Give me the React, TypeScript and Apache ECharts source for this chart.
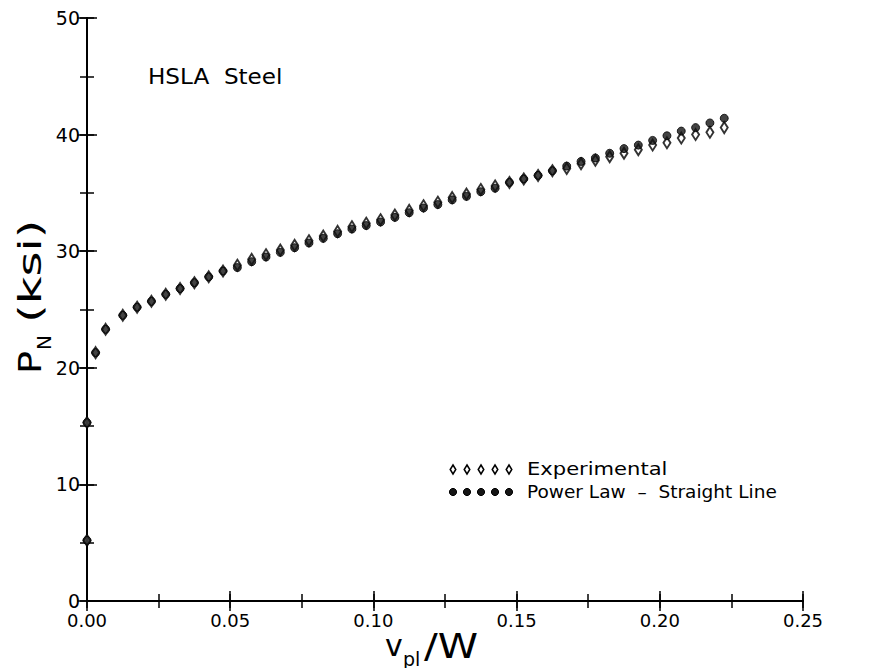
import React, { useEffect, useRef } from "react";
import * as echarts from "echarts";

// v_pl / W values (shared by both series)
const xValues = [
  0, 0, 0.003, 0.0065,
  0.0125, 0.0175, 0.0225, 0.0275, 0.0325, 0.0375, 0.0425, 0.0475,
  0.0525, 0.0575, 0.0625, 0.0675, 0.0725, 0.0775, 0.0825, 0.0875,
  0.0925, 0.0975, 0.1025, 0.1075, 0.1125, 0.1175, 0.1225, 0.1275,
  0.1325, 0.1375, 0.1425, 0.1475, 0.1525, 0.1575, 0.1625, 0.1675,
  0.1725, 0.1775, 0.1825, 0.1875, 0.1925, 0.1975, 0.2025, 0.2075,
  0.2125, 0.2175, 0.2225,
];

// P_N (ksi), experimental
const expValues = [
  5.2, 15.3, 21.3, 23.3,
  24.5, 25.2, 25.7, 26.3, 26.8, 27.3, 27.8, 28.3,
  28.8, 29.3, 29.7, 30.1, 30.5, 30.9, 31.3, 31.7,
  32.1, 32.4, 32.7, 33.1, 33.5, 33.9, 34.2, 34.6,
  34.9, 35.3, 35.6, 35.9, 36.2, 36.5, 36.9, 37.1,
  37.5, 37.8, 38.1, 38.4, 38.7, 39.1, 39.3, 39.7,
  40.0, 40.2, 40.6,
];

// P_N (ksi), power law - straight line
const powerValues = [
  5.2, 15.3, 21.3, 23.3,
  24.5, 25.2, 25.7, 26.3, 26.8, 27.3, 27.8, 28.3,
  28.6, 29.1, 29.5, 29.9, 30.3, 30.7, 31.1, 31.5,
  31.9, 32.2, 32.5, 32.9, 33.3, 33.7, 34.0, 34.4,
  34.7, 35.1, 35.4, 35.9, 36.2, 36.5, 36.9, 37.3,
  37.7, 38.0, 38.4, 38.8, 39.1, 39.5, 39.9, 40.3,
  40.6, 41.0, 41.4,
];

const seriesNames = ["Experimental", "Power Law  \u2013  Straight Line"];
const annotation = "HSLA  Steel";

const FONT = "DejaVu Sans";

export default function App() {
  const ref = useRef<HTMLDivElement>(null);
  useEffect(() => {
    if (!ref.current) return;
    const chart = echarts.init(ref.current, null, { renderer: "svg" });

    const axisLine = { show: true, lineStyle: { color: "#000", width: 2 } };
    // negative length draws the ticks towards the plot area
    const majorTick = { show: true, inside: false, length: -10, lineStyle: { color: "#000", width: 1.5 } };
    const minorTickAsMajor = { show: true, inside: false, length: -7, lineStyle: { color: "#000", width: 1.5 } };

    const xMain = {
      type: "value",
      gridIndex: 0,
      min: 0,
      max: 0.25,
      interval: 0.05,
      axisLine,
      axisTick: majorTick,
      splitLine: { show: false },
    };
    const yMain = {
      type: "value",
      gridIndex: 0,
      min: 0,
      max: 50,
      interval: 10,
      axisLine,
      axisTick: majorTick,
      splitLine: { show: false },
    };
    const xMinor = {
      type: "value",
      gridIndex: 1,
      min: 0,
      max: 0.25,
      interval: 0.025,
      axisLine: { show: false },
      axisTick: minorTickAsMajor,
      axisLabel: { show: false },
      splitLine: { show: false },
    };
    const yMinor = {
      type: "value",
      gridIndex: 1,
      min: 0,
      max: 50,
      interval: 5,
      axisLine: { show: false },
      axisTick: minorTickAsMajor,
      axisLabel: { show: false },
      splitLine: { show: false },
    };

    const legendX = [453, 467, 481, 495, 509];
    const legendGraphics: any[] = [];
    legendX.forEach((x) => {
      legendGraphics.push({
        type: "polygon",
        shape: { points: [[x, 465], [x + 2.8, 469.5], [x, 474], [x - 2.8, 469.5]] },
        style: { fill: "#fff", stroke: "#000", lineWidth: 1.5 },
      });
      legendGraphics.push({
        type: "circle",
        shape: { cx: x, cy: 492, r: 3.6 },
        style: { fill: "#151515", stroke: "#000", lineWidth: 1 },
      });
    });

    const grid = { left: 87, right: 81, top: 18, bottom: 67, containLabel: false };

    const option: any = {
      animation: false,
      backgroundColor: "#fff",
      grid: [grid, { ...grid }],
      xAxis: [
        {
          ...xMain,
          position: "bottom",
          axisLabel: {
            color: "#000",
            fontSize: 18,
            fontFamily: FONT,
            margin: 10,
            formatter: (v: number) => v.toFixed(2),
          },
        },
        { ...xMain, position: "top", axisLabel: { show: false } },
        { ...xMinor, position: "bottom" },
        { ...xMinor, position: "top" },
      ],
      yAxis: [
        {
          ...yMain,
          position: "left",
          axisLabel: { color: "#000", fontSize: 19, fontFamily: FONT, margin: 7 },
        },
        { ...yMain, position: "right", axisLabel: { show: false } },
        { ...yMinor, position: "left" },
        { ...yMinor, position: "right" },
      ],
      series: [
        {
          type: "scatter",
          name: seriesNames[0],
          xAxisIndex: 0,
          yAxisIndex: 0,
          data: xValues.map((x, i) => [x, expValues[i]]),
          symbol: "emptyDiamond",
          symbolSize: [7, 11],
          itemStyle: { color: "#000", borderWidth: 1.6 },
          z: 2,
        },
        {
          type: "scatter",
          name: seriesNames[1],
          xAxisIndex: 0,
          yAxisIndex: 0,
          data: xValues.map((x, i) => [x, powerValues[i]]),
          symbol: "circle",
          symbolSize: 8,
          itemStyle: { color: "#141414", borderColor: "#000", borderWidth: 1 },
          z: 3,
        },
      ],
      graphic: [
        {
          type: "text",
          x: 148,
          y: 77,
          scaleX: 1.1,
          style: {
            text: annotation,
            fontSize: 21,
            fontFamily: FONT,
            fill: "#000",
            align: "left",
            verticalAlign: "middle",
          },
        },
        ...legendGraphics,
        {
          type: "text",
          x: 527,
          y: 469,
          scaleX: 1.24,
          style: { text: seriesNames[0], fontSize: 17, fontFamily: FONT, fill: "#000", verticalAlign: "middle" },
        },
        {
          type: "text",
          x: 527,
          y: 492,
          scaleX: 1.09,
          style: { text: seriesNames[1], fontSize: 17, fontFamily: FONT, fill: "#000", verticalAlign: "middle" },
        },
        // y axis title: P_N (ksi), reading bottom to top
        {
          type: "text",
          x: 46,
          y: 374,
          rotation: Math.PI / 2,
          scaleX: 1.2,
          style: { text: "P", fontSize: 32, fontFamily: FONT, fill: "#000", align: "left", verticalAlign: "bottom" },
        },
        {
          type: "text",
          x: 54,
          y: 350,
          rotation: Math.PI / 2,
          style: { text: "N", fontSize: 20, fontFamily: FONT, fill: "#000", align: "left", verticalAlign: "bottom" },
        },
        {
          type: "text",
          x: 46,
          y: 323,
          rotation: Math.PI / 2,
          scaleX: 1.5,
          style: { text: "(ksi)", fontSize: 32, fontFamily: FONT, fill: "#000", align: "left", verticalAlign: "bottom" },
        },
        // x axis title: v_pl / W
        {
          type: "text",
          x: 385,
          y: 660,
          style: { text: "v", fontSize: 30, fontFamily: FONT, fill: "#000", align: "left", verticalAlign: "bottom" },
        },
        {
          type: "text",
          x: 403,
          y: 668,
          style: { text: "pl", fontSize: 19, fontFamily: FONT, fill: "#000", align: "left", verticalAlign: "bottom" },
        },
        {
          type: "text",
          x: 424,
          y: 663,
          scaleX: 1.2,
          style: { text: "/W", fontSize: 34, fontFamily: FONT, fill: "#000", align: "left", verticalAlign: "bottom" },
        },
      ],
    };

    chart.setOption(option);
    return () => chart.dispose();
  }, []);

  return <div ref={ref} style={{ width: 884, height: 668, position: "absolute", left: 0, top: 0 }} />;
}
